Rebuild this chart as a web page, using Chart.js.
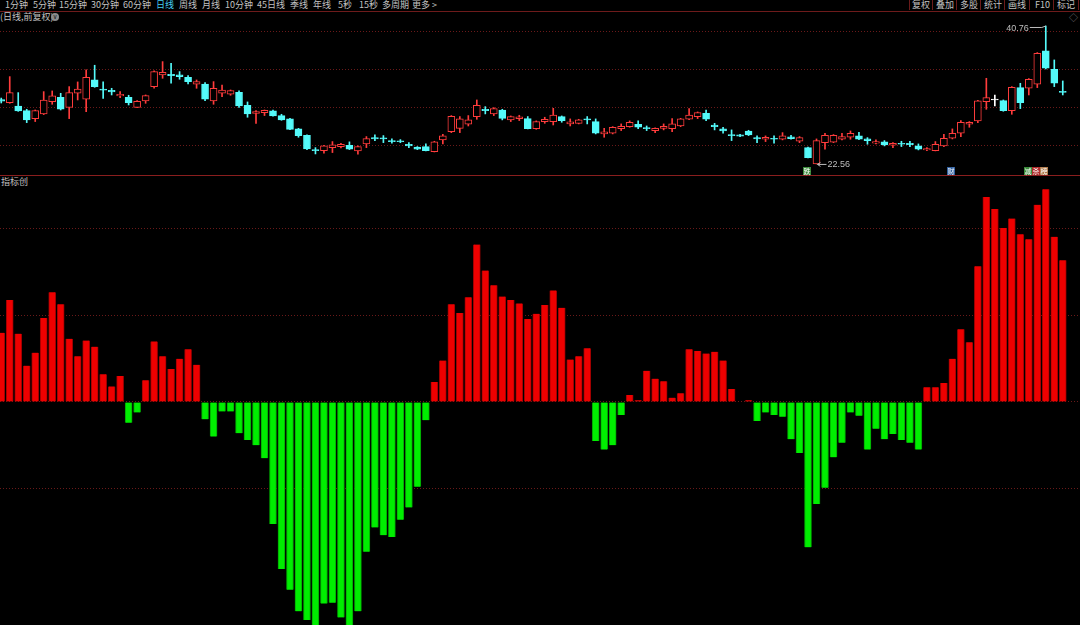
<!DOCTYPE html>
<html lang="zh-CN">
<head>
<meta charset="utf-8">
<title>日线 前复权</title>
<script src="https://cdn.jsdelivr.net/npm/chart.js@4.4.1/dist/chart.umd.min.js"></script>
<style>
    html, body { margin: 0; padding: 0; background: #000; width: 1080px; height: 625px; overflow: hidden; }
    body { position: relative; font-family: "Noto Sans CJK SC", "Noto Sans", sans-serif; color: #c2c2c2; }
    .t { position: absolute; white-space: nowrap; font-size: 9px; line-height: 10px; }
    .btn { position: absolute; top: 0; height: 10px; border-right: 1px solid #6a1a1a; }
    .hline { position: absolute; left: 0; width: 1080px; height: 1px; }
    .tag { position: absolute; top: 167px; width: 8px; height: 8px; font-size: 7px; line-height: 8px; text-align: center; color: #fff; }
    .panel { position: absolute; left: -3px; width: 1087px; }
</style>
</head>
<body>

<!-- toolbar -->
<span class="t" style="left:5px;top:0">1分钟</span>
<span class="t" style="left:33px;top:0">5分钟</span>
<span class="t" style="left:59px;top:0">15分钟</span>
<span class="t" style="left:91px;top:0">30分钟</span>
<span class="t" style="left:123px;top:0">60分钟</span>
<span class="t" style="left:156px;top:0;color:#46cff0">日线</span>
<span class="t" style="left:179px;top:0">周线</span>
<span class="t" style="left:202px;top:0">月线</span>
<span class="t" style="left:225px;top:0">10分钟</span>
<span class="t" style="left:257px;top:0">45日线</span>
<span class="t" style="left:290px;top:0">季线</span>
<span class="t" style="left:313px;top:0">年线</span>
<span class="t" style="left:338px;top:0">5秒</span>
<span class="t" style="left:359px;top:0">15秒</span>
<span class="t" style="left:382px;top:0">多周期</span>
<span class="t" style="left:412px;top:0">更多 &gt;</span>

<div class="btn" style="left:909px;width:0;border-right:1px solid #6a1a1a"></div>
<div class="btn" style="left:909px;width:23px"></div>
<div class="btn" style="left:933px;width:23px"></div>
<div class="btn" style="left:957px;width:23px"></div>
<div class="btn" style="left:981px;width:23px"></div>
<div class="btn" style="left:1005px;width:24px"></div>
<div class="btn" style="left:1030px;width:23px"></div>
<div class="btn" style="left:1054px;width:24px"></div>
<span class="t" style="left:912px;top:0">复权</span>
<span class="t" style="left:936px;top:0">叠加</span>
<span class="t" style="left:960px;top:0">多股</span>
<span class="t" style="left:984px;top:0">统计</span>
<span class="t" style="left:1008px;top:0">画线</span>
<span class="t" style="left:1035px;top:0">F10</span>
<span class="t" style="left:1057px;top:0">标记</span>
<div class="hline" style="top:11px;background:#6e1b1b"></div>

<span class="t" style="left:0;top:12px">(日线,前复权)</span>
<span class="t" style="left:51px;top:13px;width:8px;height:8px;border-radius:50%;background:#8a8a8a;color:#000;font-size:6px;line-height:7px;text-align:center">v</span>
<span class="t" style="left:1069px;top:13px;color:#777">◇</span>

<!-- price panel -->
<div class="panel" style="top:20px;height:155px"><canvas id="candleChart"></canvas></div>
<div class="hline" style="top:175px;background:#8a1e1e"></div>

<span class="tag" style="left:803px;background:#3b8b3b">跌</span>
<span class="tag" style="left:947px;background:#2f5f9f">财</span>
<span class="tag" style="left:1024px;background:#3b8b3b">减</span>
<span class="tag" style="left:1032px;background:#b02a2a">杀</span>
<span class="tag" style="left:1040px;background:#b07a4a">榜</span>

<!-- indicator panel -->
<span class="t" style="left:1px;top:177px">指标创</span>
<div class="panel" style="top:177px;height:448px"><canvas id="indicatorChart"></canvas></div>

<script>
// daily candles, oldest first
const opens = [
    31.05, 30.65, 30.20, 29.60, 28.54, 29.16, 30.78, 31.36, 30.03, 31.88,
    31.09, 33.64, 32.45, 32.28, 31.53, 31.36, 30.03, 30.87, 32.76, 34.30,
    34.39, 34.30, 33.99, 33.07, 33.11, 30.87, 31.88, 31.75, 32.01, 30.30,
    29.24, 29.33, 29.55, 28.94, 28.50, 27.18, 26.34, 24.41, 24.32, 24.71,
    24.85, 25.02, 24.28, 25.20, 26.03, 25.99, 25.64, 25.60, 25.16, 24.80,
    24.85, 24.19, 25.73, 26.82, 27.26, 27.79, 28.81, 29.77, 29.16, 29.68,
    28.37, 28.54, 28.54, 27.22, 28.15, 28.15, 28.81, 27.84, 27.92, 28.50,
    28.15, 26.52, 26.61, 27.22, 27.48, 27.79, 27.35, 26.96, 27.26, 27.22,
    27.57, 28.45, 28.81, 29.24, 27.70, 27.18, 26.43, 26.40, 26.91, 26.03,
    25.82, 25.95, 25.82, 26.12, 25.55, 24.71, 22.56, 25.37, 25.42, 25.82,
    26.08, 26.26, 25.86, 25.29, 25.47, 25.02, 25.29, 25.29, 24.94, 24.41,
    24.32, 24.94, 25.95, 26.61, 27.79, 28.24, 30.78, 31.00, 30.92, 29.60,
    32.63, 32.54, 33.07, 37.47, 35.05, 32.15
];
const highs = [
    31.25, 34.08, 31.97, 29.77, 29.68, 32.10, 32.19, 31.88, 32.76, 33.38,
    34.96, 35.58, 33.38, 32.54, 32.10, 31.62, 30.92, 31.66, 34.83, 36.06,
    35.84, 34.74, 34.21, 33.64, 33.29, 33.42, 32.98, 32.32, 32.19, 30.74,
    29.60, 29.68, 29.68, 29.11, 28.58, 27.26, 26.39, 24.71, 25.02, 25.51,
    25.29, 25.47, 24.94, 26.17, 26.39, 26.30, 25.86, 25.77, 25.37, 24.85,
    25.20, 25.55, 26.47, 28.94, 28.81, 28.94, 31.00, 30.12, 29.99, 29.77,
    28.89, 28.98, 28.81, 28.24, 28.72, 29.90, 28.89, 28.50, 28.45, 28.81,
    28.50, 27.26, 27.48, 27.84, 28.24, 28.24, 27.57, 27.31, 27.84, 28.54,
    28.58, 29.86, 29.42, 29.68, 27.92, 27.40, 27.05, 26.45, 27.00, 26.26,
    26.26, 26.26, 26.69, 26.34, 26.17, 24.80, 25.86, 26.61, 26.43, 26.61,
    26.91, 26.74, 26.03, 25.73, 25.64, 25.37, 25.55, 25.55, 25.20, 24.71,
    25.51, 26.47, 27.18, 28.28, 28.15, 30.96, 33.86, 31.66, 31.00, 32.76,
    33.20, 33.82, 37.25, 40.76, 36.28, 33.51
];
const lows = [
    30.60, 30.56, 29.50, 28.01, 28.15, 29.07, 30.43, 29.68, 28.54, 31.00,
    29.46, 32.67, 31.22, 31.66, 31.31, 30.34, 29.99, 30.56, 32.54, 33.86,
    33.20, 33.73, 33.11, 32.54, 30.92, 30.43, 31.44, 31.62, 30.03, 28.72,
    27.92, 28.94, 28.85, 28.32, 27.09, 26.08, 24.45, 23.88, 23.97, 24.06,
    24.67, 24.45, 23.84, 24.71, 25.64, 25.37, 25.29, 25.37, 24.71, 24.45,
    24.28, 24.14, 25.20, 26.69, 26.69, 27.57, 28.45, 29.16, 28.94, 28.37,
    28.15, 28.28, 27.18, 27.13, 27.92, 27.70, 28.06, 27.57, 27.84, 27.84,
    26.52, 26.08, 26.52, 26.96, 27.40, 27.22, 26.96, 26.69, 27.05, 26.83,
    27.48, 28.41, 28.54, 28.28, 27.05, 26.61, 25.64, 26.15, 26.30, 25.37,
    25.51, 25.29, 25.73, 25.82, 25.37, 23.35, 22.56, 24.50, 25.37, 25.73,
    25.82, 25.77, 25.16, 25.20, 24.94, 24.71, 24.85, 24.85, 24.41, 24.32,
    24.28, 24.85, 25.86, 26.17, 27.40, 28.01, 29.77, 30.20, 29.51, 29.11,
    29.86, 31.66, 32.63, 35.09, 32.76, 31.66
];
const closes = [
    30.85, 31.97, 29.55, 28.37, 29.60, 31.00, 31.53, 29.77, 31.97, 32.45,
    33.99, 32.76, 32.28, 32.06, 31.75, 30.65, 30.83, 31.57, 34.74, 34.65,
    34.21, 34.08, 33.42, 33.42, 31.09, 32.54, 32.32, 32.23, 30.20, 29.16,
    29.46, 29.64, 28.89, 28.37, 27.13, 26.30, 24.54, 24.32, 24.94, 25.07,
    25.16, 24.50, 24.85, 25.90, 25.86, 25.86, 25.51, 25.49, 24.94, 24.50,
    24.32, 25.47, 26.26, 28.85, 28.50, 28.37, 30.30, 29.60, 29.86, 28.58,
    28.81, 28.76, 27.22, 28.15, 28.45, 29.02, 28.28, 28.10, 28.37, 28.37,
    26.61, 26.78, 27.40, 27.53, 28.06, 27.40, 27.22, 27.26, 27.53, 27.84,
    28.50, 29.02, 29.33, 28.45, 27.48, 26.91, 26.30, 26.22, 26.39, 25.86,
    26.08, 25.82, 26.26, 25.90, 26.03, 23.40, 25.64, 26.34, 26.34, 26.17,
    26.61, 25.82, 25.64, 25.51, 25.07, 25.29, 25.16, 25.11, 24.50, 24.58,
    25.16, 25.95, 26.61, 28.06, 28.06, 30.87, 31.31, 31.00, 29.60, 32.67,
    30.65, 33.73, 37.16, 35.18, 33.20, 32.01
];

// indicator histogram, one value per day
const indicator = [
    80, 118, 79, 42, 57, 97, 127, 113, 73, 53,
    71, 64, 32, 18, 30, -24, -12, 25, 70, 53,
    38, 50, 61, 43, -20, -40, -11, -11, -36, -44,
    -50, -65, -141, -193, -217, -242, -252, -265, -233, -232,
    -249, -262, -242, -173, -145, -154, -156, -136, -122, -98,
    -21, 23, 48, 113, 103, 121, 182, 152, 135, 122,
    118, 114, 96, 102, 112, 129, 109, 49, 53, 62,
    -45, -55, -50, -15, 8, 2, 36, 27, 24, 5,
    10, 61, 59, 56, 58, 48, 15, 0.5, 2, -22,
    -12, -15, -17, -43, -59, -168, -118, -99, -64, -47,
    -12, -16, -55, -31, -43, -37, -44, -47, -55, 17,
    17, 22, 50, 84, 69, 157, 237, 223, 201, 212,
    194, 188, 228, 246, 191, 164
];

// dotted grid levels
const priceGrid = [25, 30, 35, 40];
const indicatorGrid = [200, 100, 0, -100];

const SLOTS = 128; // 126 days + 2 empty slots at the right edge
const labels = Array.from({ length: SLOTS }, (_, i) => i + 1);

const UP = '#ff3c3c';
const DOWN = '#54fafa';
const FLAT = '#ffffff';
const GRID = '#6a1919';

function candleColor(i) {
    if (closes[i] > opens[i]) return UP;
    if (closes[i] < opens[i]) return DOWN;
    return FLAT;
}
const colors = opens.map((o, i) => candleColor(i));

function gridAxis(min, max, levels) {
    return {
        min, max,
        position: 'right',
        afterBuildTicks: s => { s.ticks = levels.map(v => ({ value: v })); },
        afterFit: s => { s.width = 0; },
        ticks: { display: false },
        grid: { color: GRID, drawTicks: false, lineWidth: 1 },
        border: { display: false, dash: [1, 2] }
    };
}

const baseOptions = {
    responsive: true,
    maintainAspectRatio: false,
    animation: false,
    events: [],
    layout: { padding: 0 },
    plugins: { legend: { display: false }, tooltip: { enabled: false } }
};

// marks the highest high and lowest low like the terminal does
const extremesPlugin = {
    id: 'extremes',
    afterDatasetsDraw(chart) {
        const { ctx, scales: { x, y } } = chart;
        const hi = highs.indexOf(Math.max(...highs));
        const lo = lows.indexOf(Math.min(...lows));
        ctx.save();
        ctx.strokeStyle = '#bdbdbd';
        ctx.fillStyle = '#bdbdbd';
        ctx.lineWidth = 1;
        ctx.font = '9px "Liberation Sans", sans-serif';
        ctx.textBaseline = 'middle';

        const hx = x.getPixelForValue(hi), hy = y.getPixelForValue(highs[hi]);
        ctx.beginPath();
        ctx.moveTo(hx - 16, hy + 1.5);
        ctx.lineTo(hx - 4, hy + 1.5);
        ctx.lineTo(hx, hy);
        ctx.stroke();
        ctx.textAlign = 'right';
        ctx.fillText(highs[hi].toFixed(2), hx - 17, hy + 3);

        const lx = x.getPixelForValue(lo), ly = y.getPixelForValue(lows[lo]);
        ctx.beginPath();
        ctx.moveTo(lx + 1, ly + 0.5);
        ctx.lineTo(lx + 10, ly + 0.5);
        ctx.moveTo(lx + 1, ly + 0.5);
        ctx.lineTo(lx + 4, ly - 1.5);
        ctx.moveTo(lx + 1, ly + 0.5);
        ctx.lineTo(lx + 4, ly + 2.5);
        ctx.stroke();
        ctx.textAlign = 'left';
        ctx.fillText(lows[lo].toFixed(2), lx + 11, ly + 1);
        ctx.restore();
    }
};

new Chart(document.getElementById('candleChart'), {
    type: 'bar',
    data: {
        labels,
        datasets: [
            {
                // bodies: rising days hollow, falling days filled
                data: opens.map((o, i) => [o, closes[i]]),
                backgroundColor: opens.map((o, i) => closes[i] > o ? '#000' : colors[i]),
                borderColor: colors,
                borderWidth: 1,
                borderSkipped: false,
                barThickness: 7,
                minBarLength: 1,
                grouped: false
            },
            {
                // wicks
                data: lows.map((l, i) => [l, highs[i]]),
                backgroundColor: colors,
                barThickness: 1,
                grouped: false
            }
        ]
    },
    options: {
        ...baseOptions,
        scales: {
            x: { display: false, offset: true },
            y: gridAxis(21.1, 41.55, priceGrid)
        }
    },
    plugins: [extremesPlugin]
});

new Chart(document.getElementById('indicatorChart'), {
    type: 'bar',
    data: {
        labels,
        datasets: [{
            data: indicator,
            backgroundColor: indicator.map(v => v >= 0 ? '#ee0000' : '#00ee00'),
            borderColor: indicator.map(v => v >= 0 ? '#a00000' : '#00a200'),
            borderWidth: { left: 1, right: 1, top: 0, bottom: 0 },
            borderSkipped: false,
            barThickness: 7
        }]
    },
    options: {
        ...baseOptions,
        scales: {
            x: { display: false, offset: true },
            y: gridAxis(-257.8, 260.1, indicatorGrid)
        }
    }
});
</script>
</body>
</html>
